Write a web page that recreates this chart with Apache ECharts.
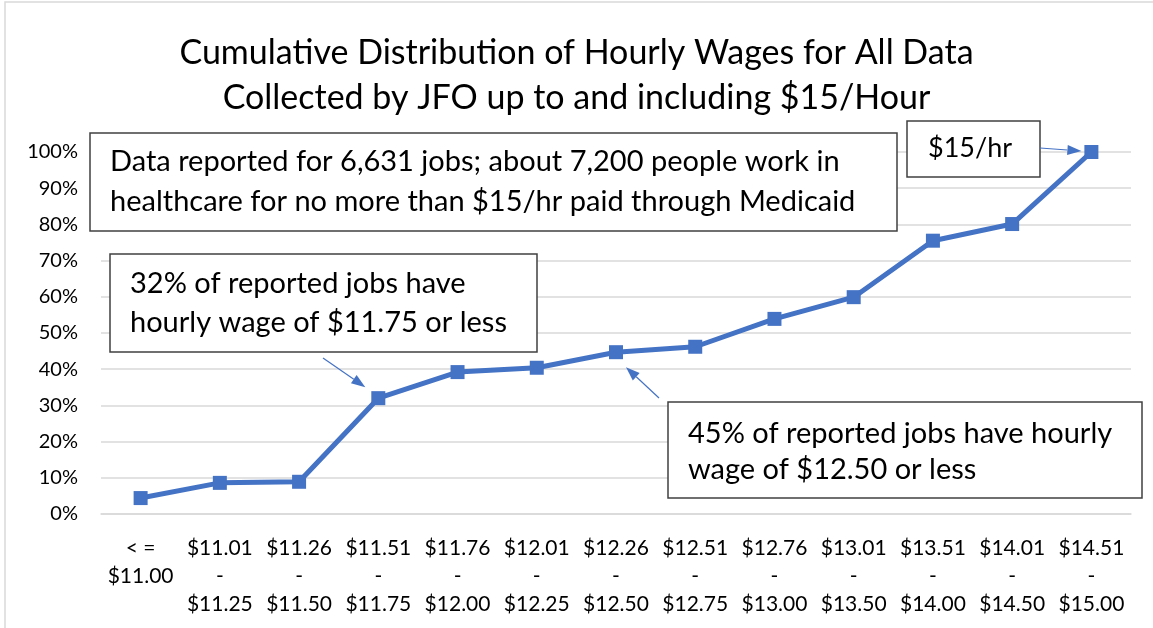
<!DOCTYPE html>
<html>
<head>
<meta charset="utf-8">
<title>Cumulative Distribution of Hourly Wages</title>
<script src="https://cdn.jsdelivr.net/npm/echarts@6/dist/echarts.min.js"></script>
<style>
  html, body { margin: 0; padding: 0; background: #fff; }
  #main { width: 1153px; height: 628px; }
</style>
</head>
<body>
<div id="main"></div>
<script>
// wage bands (x axis)
var wageBands = [
    '< =\n$11.00',
    '$11.01\n-\n$11.25', '$11.26\n-\n$11.50', '$11.51\n-\n$11.75', '$11.76\n-\n$12.00',
    '$12.01\n-\n$12.25', '$12.26\n-\n$12.50', '$12.51\n-\n$12.75', '$12.76\n-\n$13.00',
    '$13.01\n-\n$13.50', '$13.51\n-\n$14.00', '$14.01\n-\n$14.50', '$14.51\n-\n$15.00'
];
// cumulative share of reported jobs
var cumulativeShare = [0.044, 0.086, 0.089, 0.32, 0.392, 0.404, 0.447, 0.462, 0.539, 0.599, 0.755, 0.801, 1.0];

var titleLines = ['Cumulative Distribution of Hourly Wages for All Data', 'Collected by JFO up to and including $15/Hour'];
var noteTotal = ['Data reported for 6,631 jobs; about 7,200 people work in', 'healthcare for no more than $15/hr paid through Medicaid'];
var note1175 = ['32% of reported jobs have', 'hourly wage of $11.75 or less'];
var note1250 = ['45% of reported jobs have hourly', 'wage of $12.50 or less'];
var note15 = '$15/hr';

var FONT = 'Lato, "Noto Sans", sans-serif';
var BLUE = '#4472C4';

var chart = echarts.init(document.getElementById('main'));

function box(x, y, w, h, lines, tx, ty, lh, fs) {
    return {
        type: 'group',
        children: [
            { type: 'rect', shape: { x: x, y: y, width: w, height: h },
              style: { fill: '#fff', stroke: '#404040', lineWidth: 1.5 }, z: 10 },
            { type: 'text', x: tx, y: ty, z: 11,
              style: { text: lines.join('\n'), font: fs + 'px ' + FONT, fill: '#000', lineHeight: lh, verticalAlign: 'top' } }
        ]
    };
}

var option = {
    backgroundColor: '#fff',
    animation: false,
    title: {
        text: titleLines.join('\n'),
        left: 'center',
        top: 26,
        textStyle: { fontFamily: FONT, fontSize: 34, fontWeight: 'normal', color: '#000', lineHeight: 45 }
    },
    grid: { left: 101, right: 22, top: 152, bottom: 114 },
    xAxis: {
        type: 'category',
        data: wageBands,
        boundaryGap: true,
        axisLine: { lineStyle: { color: '#d9d9d9', width: 1.5 } },
        axisTick: { show: false },
        axisLabel: { interval: 0, fontFamily: FONT, fontSize: 21, lineHeight: 28, color: '#000', margin: 20 }
    },
    yAxis: {
        type: 'value',
        min: 0, max: 1, interval: 0.1,
        axisLine: { show: false },
        axisTick: { show: false },
        splitLine: { lineStyle: { color: '#d9d9d9', width: 1.5 } },
        axisLabel: {
            fontFamily: FONT, fontSize: 20, color: '#000', margin: 23,
            formatter: function (v) { return Math.round(v * 100) + '%'; }
        }
    },
    series: [{
        type: 'line',
        data: cumulativeShare,
        symbol: 'rect',
        symbolSize: 14,
        lineStyle: { color: BLUE, width: 5 },
        itemStyle: { color: BLUE },
        z: 3
    }],
    graphic: []
};
chart.setOption(option);

// annotation arrows aim at the data points
function arrow(from, idx, dx, dy) {
    var p = chart.convertToPixel({ seriesIndex: 0 }, [idx, cumulativeShare[idx]]);
    var tip = [p[0] + dx, p[1] + dy];
    var ang = Math.atan2(tip[1] - from[1], tip[0] - from[0]);
    var len = 14, half = 5;
    var bx = tip[0] - len * Math.cos(ang), by = tip[1] - len * Math.sin(ang);
    var nx = -Math.sin(ang) * half, ny = Math.cos(ang) * half;
    return {
        type: 'group',
        children: [
            { type: 'line', shape: { x1: from[0], y1: from[1], x2: bx, y2: by },
              style: { stroke: BLUE, lineWidth: 1.2 }, z: 12 },
            { type: 'polygon', shape: { points: [tip, [bx + nx, by + ny], [bx - nx, by - ny]] },
              style: { fill: BLUE }, z: 12 }
        ]
    };
}

chart.setOption({
    graphic: [
        { type: 'rect', shape: { x: 5, y: 2, width: 1160, height: 640 },
          style: { fill: 'none', stroke: '#d9d9d9', lineWidth: 1.5 }, z: 1 },
        box(90, 133, 807, 98, noteTotal, 110, 142, 40, 29),
        box(110, 254, 427, 98, note1175, 130, 264, 39, 29),
        box(668, 402, 474, 96, note1250, 688, 416, 36, 29),
        box(907, 121, 133, 56, [note15], 928, 133, 30, 27),
        arrow([323, 358], 3, -13, -11),
        arrow([659, 398], 6, 10, 15),
        arrow([1040, 148], 12, -10, -1)
    ]
});
</script>
</body>
</html>
